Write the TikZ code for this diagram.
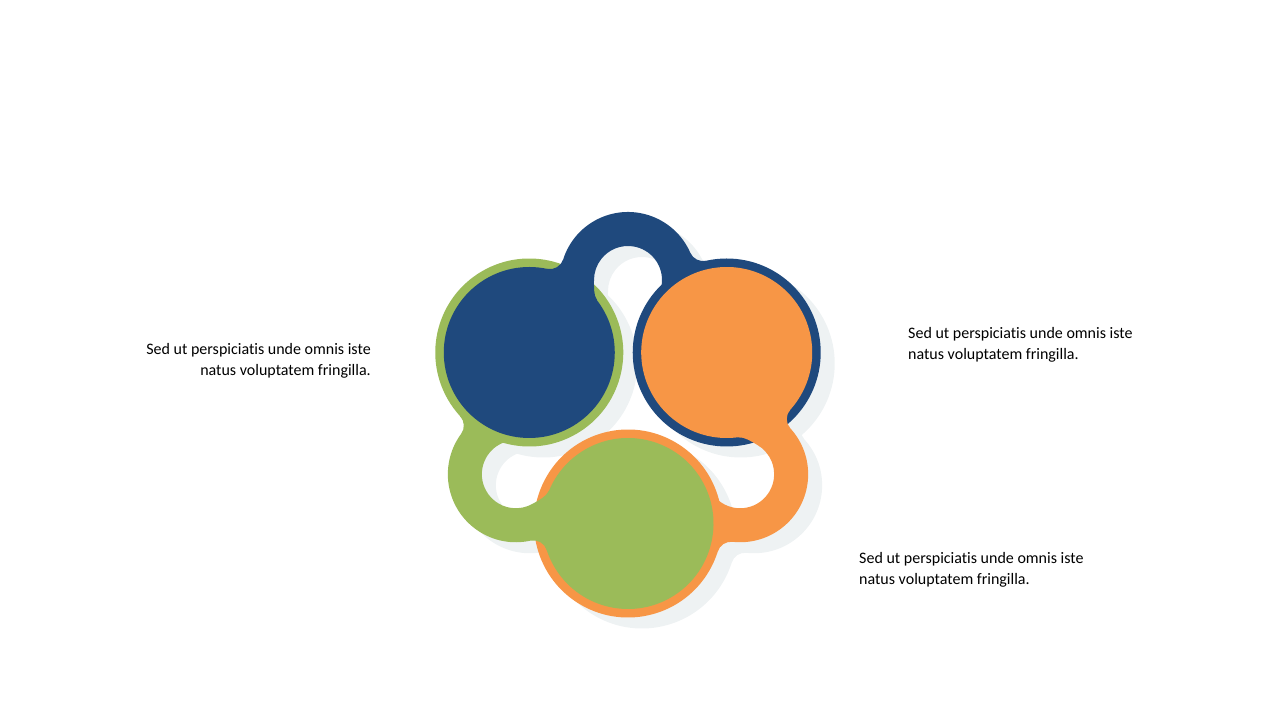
\documentclass[tikz,border=0pt]{standalone}
\usepackage{fontspec}
\setmainfont{Carlito}[Ligatures=NoCommon]
\usetikzlibrary{positioning}
\definecolor{navy}{RGB}{31,73,125}
\definecolor{tangerine}{RGB}{247,150,70}
\definecolor{leaf}{RGB}{155,187,89}
\definecolor{haze}{RGB}{238,242,243}
\edef\discsize{85.5}
\edef\ringsize{94}
\tikzstyle{blurb}=[font=\fontsize{16}{21}\selectfont, inner sep=0pt]
\newcommand{\tailpath}{(-81.05,140.65) arc[start angle=-102.0, end angle=-17.6, radius=14]
	arc[start angle=162.36, end angle=23.65, radius=68]
	arc[start angle=203.66, end angle=282.6, radius=14]
	-- (30:114) -- (33.68,124.85)
	arc[start angle=-7.86, end angle=180, radius=34]
	.. controls (-34,123) and (-34.6,114.3) .. (-31,109.5)
	-- (150:114) -- cycle}

\begin{document}
\begin{tikzpicture}[x=1pt,y=1pt]
		\useasboundingbox (0,0) rectangle (1280,720);
		\coordinate (hub) at (628,310.5);
		\coordinate (hubshadow) at (642,299.5);
		
		\foreach \turn in {0,-120,120} {
			\fill[haze, shift={(hubshadow)}, rotate=\turn] (30:114) circle (\ringsize);
			\fill[haze, shift={(hubshadow)}, rotate=\turn] \tailpath;
		}
		\foreach \turn/\tint in {0/navy,-120/tangerine,120/leaf}
			\fill[\tint, shift={(hub)}, rotate=\turn] (30:114) circle (\ringsize);
		\foreach \turn/\tint in {0/navy,-120/tangerine,120/leaf}
			\fill[\tint, shift={(hub)}, rotate=\turn] \tailpath;
		\foreach \turn/\tint in {0/navy,-120/tangerine,120/leaf}
			\fill[\tint, shift={(hub)}, rotate=\turn] (150:114) circle (\discsize);
		
		\node[blurb, anchor=base east, align=right] (notewest) at (371,344.7) {Sed ut perspiciatis unde omnis iste\\natus voluptatem fringilla.};
		\node[blurb, anchor=base west, align=left] (noteeast) at (908,360.7) {Sed ut perspiciatis unde omnis iste\\natus voluptatem fringilla.};
		\node[blurb, anchor=base west, align=left] (notesouth) at (859,135) {Sed ut perspiciatis unde omnis iste\\natus voluptatem fringilla.};
\end{tikzpicture}
\end{document}
